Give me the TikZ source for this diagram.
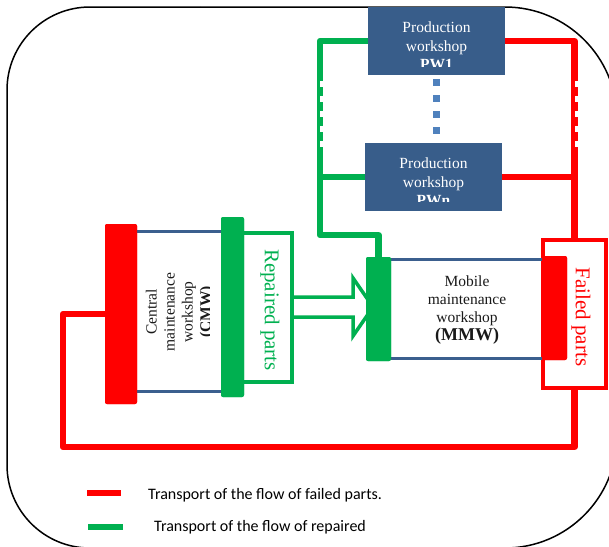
\documentclass[tikz,border=0pt]{standalone}
\usepackage{fontspec}
\setmainfont{Liberation Serif}
\newfontfamily\legendfont{Carlito}
\definecolor{pwblue}{HTML}{385D8A}
\definecolor{linkblue}{HTML}{3B5F8E}
\definecolor{dotblue}{HTML}{4F81BD}
\definecolor{pgreen}{HTML}{00B050}
\definecolor{pred}{HTML}{FF0000}
\begin{document}
\begin{tikzpicture}[x=1pt,y=-1pt,
  frame/.style={draw=black, line width=1.5},
  gline/.style={draw=pgreen, line width=6.5, line join=round},
  rline/.style={draw=pred, line width=6.5, line join=round},
  blink/.style={draw=linkblue, line width=3},
  pwbox/.style={fill=pwblue, inner sep=0, outer sep=0, minimum width=137, minimum height=68},
  gbar/.style={fill=pgreen, inner sep=0, outer sep=0, rounded corners=2},
  rbar/.style={fill=pred, inner sep=0, outer sep=0, rounded corners=2},
  pwtext/.style={text=white, align=center, inner sep=0, font=\fontsize{15.5}{18.5}\selectfont},
  wtext/.style={text=black!90, align=center, inner sep=0, font=\fontsize{15.5}{18}\selectfont},
  bigtext/.style={inner sep=0, font=\fontsize{21}{24}\selectfont},
  legtext/.style={anchor=west, inner sep=0, font=\legendfont\fontsize{16}{18}\selectfont}
]
\useasboundingbox (0,0) rectangle (609,546);
% frame
\draw[frame, rounded corners=83] (7,200) -- (7,7) -- (200,7);
\draw[frame, rounded corners=112] (200,7) -- (617,7) -- (617,200);
\draw[frame, rounded corners=112] (617,200) -- (617,548) -- (300,548);
\draw[frame, rounded corners=83] (300,548) -- (7,548) -- (7,200);

% nodes
\node[pwbox] (pw1) at (436.5,41) {};
\node[pwbox] (pwn) at (433.5,177) {};
\node[rbar, minimum width=32, minimum height=180] (cmwR) at (121,314) {};
\node[gbar, minimum width=23, minimum height=180] (cmwG) at (232.5,307) {};
\node[gbar, minimum width=25, minimum height=104] (mmwG) at (378.5,309) {};
\node[rbar, minimum width=25, minimum height=104] (mmwR) at (554.5,308) {};
\node[draw=pred, line width=3.5, inner sep=0, outer sep=0, minimum width=63, minimum height=148] (fail) at (574.5,314) {};

% connectors
\draw[gline] (pw1.west) -| (320,235) -| (mmwG.north);
\draw[gline] (pwn.west) -- (320,177);
\draw[rline] (pw1.east) -| (fail.north);
\draw[rline] (pwn.east) -- (fail.north |- pwn.east);
\draw[rline] (fail.south) |- (63,447) |- (cmwR.west);
\draw[white, line width=3.5, dash pattern=on 6 off 9] (321.5,81) -- (321.5,148);
\draw[white, line width=3.5, dash pattern=on 6 off 9] (576.5,81) -- (576.5,148);
\draw[dotblue, line width=7, dash pattern=on 7 off 9] (436,79) -- (436,136);

% hollow arrow
\draw[pgreen, line width=3.5, fill=white, line join=miter] (292,297) -- (353,297) -- (353,278) -- (373,307) -- (353,336) -- (353,317) -- (292,317);
\node[draw=pgreen, line width=3.5, inner sep=0, outer sep=0, minimum width=56, minimum height=149] (rep) at (264,307.5) {};

% redraw boxes/bars on top
\node[pwbox] at (pw1) {};
\node[pwbox] at (pwn) {};
\draw[blink] (137,231) -- (221,231);
\draw[blink] (137,391) -- (221,391);
\draw[blink] (391,259) -- (542,259);
\draw[blink] (391,358) -- (542,358);
\node[rbar, minimum width=32, minimum height=180] at (cmwR) {};
\node[gbar, minimum width=23, minimum height=180] at (cmwG) {};
\node[gbar, minimum width=25, minimum height=104] at (mmwG) {};
\node[rbar, minimum width=25, minimum height=104] at (mmwR) {};

% texts
\begin{scope}
\clip (368,7) rectangle (505,66);
\node[pwtext] (pw1txt) at (436.5,46) {Production\\workshop\\\textbf{PW1}};
\end{scope}
\begin{scope}
\clip (365,143) rectangle (502,201);
\node[pwtext] (pwntxt) at (433.5,182) {Production\\workshop\\\textbf{PWn}};
\end{scope}
\begin{scope}
\clip (137,224) rectangle (209,404);
\node[wtext, rotate=90] (cmwtxt) at (180,312) {Central\\maintenance\\workshop\\\textbf{(CMW)}};
\end{scope}
\node[wtext] (mmwtxt) at (467,310) {Mobile\\maintenance\\workshop\\{\fontsize{18}{20}\selectfont\bfseries (MMW)}};
\node[bigtext, text=pgreen, rotate=-90] (replbl) at (270,310) {Repaired parts};
\node[bigtext, text=pred, rotate=-90] (faillbl) at (581,317) {Failed parts};

% legend
\draw[pred, line width=6] (87,493) -- (121,493);
\draw[pgreen, line width=6] (88,527) -- (123,527);
\node[legtext] (leg1) at (148,495) {Transport of the flow of failed parts.};
\node[legtext] (leg2) at (154,527) {Transport of the flow of repaired};
\end{tikzpicture}
\end{document}
